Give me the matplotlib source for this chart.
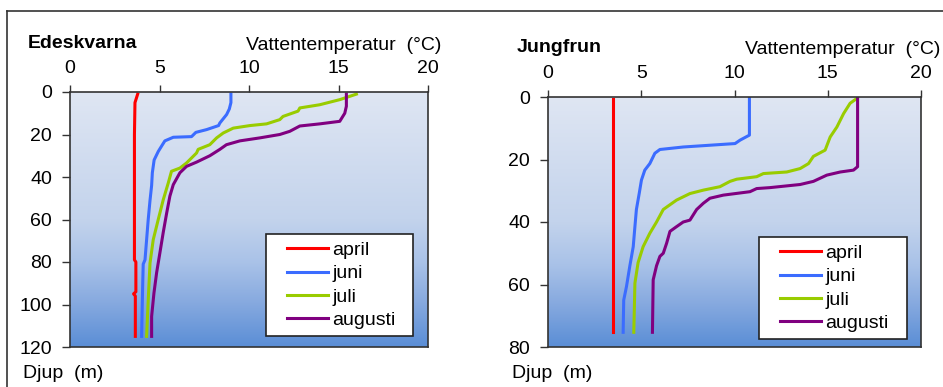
import numpy as np
import matplotlib
matplotlib.use("Agg")
import matplotlib.pyplot as plt
from matplotlib.colors import LinearSegmentedColormap
from matplotlib.lines import Line2D
from matplotlib.legend_handler import HandlerLine2D

plt.rcParams['font.family'] = ['Liberation Sans', 'DejaVu Sans']

# Edeskvarna profiles (depth in m, temperature in °C)
ede_april_d = [1, 5, 20, 40, 60, 79, 80, 94, 95, 96, 115]
ede_april_t = [3.78, 3.63, 3.6, 3.6, 3.6, 3.6, 3.68, 3.68, 3.55, 3.65, 3.65]

ede_juni_d = [1, 5, 8, 10.6, 14.6, 15.8, 17.7, 19, 21, 21.3, 23, 25, 28, 32, 38, 44, 51, 60, 69.5, 79, 81, 91, 115]
ede_juni_t = [8.99, 8.99, 8.9, 8.75, 8.37, 8.3, 7.63, 7.03, 6.79, 5.77, 5.3, 5.15, 4.93, 4.7, 4.6, 4.56, 4.47, 4.37, 4.28, 4.19, 4.09, 4.06, 4.0]

ede_juli_d = [1, 3.6, 6, 7.5, 9, 11.5, 13, 15, 15.8, 17, 19.3, 21.6, 24.8, 27, 28.7, 33.4, 35.8, 37.3, 42.8, 50.7, 60, 69.5, 80.5, 98, 115]
ede_juli_t = [16.0, 15.07, 13.95, 12.84, 12.74, 11.9, 11.72, 10.98, 10.05, 9.12, 8.56, 8.19, 7.81, 7.16, 7.07, 6.51, 6.14, 5.67, 5.49, 5.21, 4.93, 4.65, 4.47, 4.37, 4.28]

ede_aug_d = [1, 6.7, 10, 13.8, 15, 16, 18.5, 20, 21.6, 23, 24.8, 27, 30, 33, 35, 38, 43.6, 49, 57, 66, 75.8, 85, 94.6, 105.6, 115]
ede_aug_t = [15.44, 15.44, 15.35, 15.07, 13.95, 12.84, 12.28, 11.72, 10.6, 9.49, 8.74, 8.37, 7.81, 7.07, 6.51, 6.14, 5.77, 5.58, 5.4, 5.21, 5.02, 4.84, 4.69, 4.56, 4.56]

# Jungfrun profiles
jun_april_d = [0.5, 75.3]
jun_april_t = [3.49, 3.49]

jun_juni_d = [0.5, 12.2, 13.8, 14.9, 16, 16.8, 18, 21.3, 23.4, 26.6, 30.9, 36, 41.5, 47.9, 54, 60.6, 65, 75.3]
jun_juni_t = [10.8, 10.8, 10.3, 10.03, 7.25, 6.0, 5.73, 5.46, 5.19, 5.01, 4.89, 4.74, 4.66, 4.57, 4.39, 4.21, 4.06, 4.03]

jun_juli_d = [0.6, 2, 5.3, 9.6, 12.8, 17, 19, 21.3, 22.9, 24, 24.5, 25.5, 26.3, 27, 28.7, 29.8, 30.9, 33, 36, 40, 43.6, 47.9, 53, 59.6, 75.3]
jun_juli_t = [16.53, 16.2, 15.85, 15.49, 15.13, 14.86, 14.23, 13.97, 13.52, 12.8, 11.55, 11.19, 10.12, 9.76, 9.22, 8.33, 7.61, 6.89, 6.18, 5.82, 5.46, 5.1, 4.83, 4.66, 4.6]

jun_aug_d = [0.5, 22.3, 23.4, 24, 25, 27, 28, 29, 29.3, 30.3, 31.4, 32.4, 34, 36, 39.4, 40, 41.5, 43, 46.8, 50, 51, 54, 58.5, 75.3]
jun_aug_t = [16.6, 16.6, 16.38, 15.67, 14.95, 14.23, 13.52, 11.9, 11.19, 10.83, 9.4, 8.68, 8.33, 7.97, 7.61, 7.25, 6.89, 6.54, 6.36, 6.18, 6.0, 5.82, 5.64, 5.6]

months = ['april', 'juni', 'juli', 'augusti']
colors = ['#ff0000', '#3b6cff', '#99cc00', '#800080']

bg = LinearSegmentedColormap.from_list('bg', [
    (0.0, '#dfe6f3'), (0.5, '#c3d3ec'), (0.67, '#a9c2e8'),
    (0.83, '#86a9df'), (1.0, '#5a8ed6')])

FS = 14

fig = plt.figure(figsize=(9.43, 3.87), dpi=100)

# outer frame (top and left)
fig.add_artist(Line2D([7/943, 1], [1 - 11/387, 1 - 11/387], color='#333333', lw=1.2))
fig.add_artist(Line2D([7/943, 7/943], [0, 1 - 11/387], color='#333333', lw=1.2))


def panel(rect, name, maxdepth, yticks, profiles, title_x, tl_right, title_y, djup_x, leg_box):
    ax = fig.add_axes(rect)
    grad = np.linspace(0, 1, 256).reshape(-1, 1)
    ax.imshow(grad, cmap=bg, aspect='auto', extent=[0, 20, maxdepth, 0], zorder=0)
    for (d, t), c, m in zip(profiles, colors, months):
        ax.plot(t, d, color=c, lw=2.2, label=m, zorder=2)
    ax.set_xlim(0, 20)
    ax.set_ylim(maxdepth, 0)
    ax.set_xticks([0, 5, 10, 15, 20])
    ax.set_yticks(yticks)
    ax.xaxis.tick_top()
    ax.tick_params(axis='x', length=5, width=1, pad=6, labelsize=FS, color='#333333')
    ax.tick_params(axis='y', length=6, width=1, pad=7, labelsize=FS, color='#333333')
    for s in ax.spines.values():
        s.set_color('#333333')
        s.set_linewidth(1.2)
    leg = ax.legend(loc='lower left', bbox_to_anchor=leg_box, mode='expand', fontsize=FS,
                    frameon=True, fancybox=False, edgecolor='#222222',
                    handlelength=2.85, handletextpad=0.2, borderpad=0.35,
                    labelspacing=0.3, borderaxespad=0,
                    handler_map={Line2D: HandlerLine2D(xpad=0.75)})
    leg.get_frame().set_linewidth(1.2)
    leg.get_frame().set_alpha(1)
    fig.text(title_x / 943, 1 - title_y / 387, name, fontsize=FS, fontweight='bold',
             ha='left', va='center')
    fig.text(tl_right / 943, 1 - (title_y + 1) / 387, 'Vattentemperatur  (°C)',
             fontsize=FS, ha='right', va='center')
    fig.text(djup_x / 943, 1 - 373 / 387, 'Djup  (m)', fontsize=FS, ha='left', va='center')
    return ax


panel([70/943, 1 - 347/387, 358/943, 255/387], 'Edeskvarna', 120,
      [0, 20, 40, 60, 80, 100, 120],
      [(ede_april_d, ede_april_t), (ede_juni_d, ede_juni_t),
       (ede_juli_d, ede_juli_t), (ede_aug_d, ede_aug_t)],
      28, 441, 44, 23, (0.5475, 0.043, 0.4106, 0.3))

panel([548/943, 1 - 347/387, 373/943, 250/387], 'Jungfrun', 80,
      [0, 20, 40, 60, 80],
      [(jun_april_d, jun_april_t), (jun_juni_d, jun_juni_t),
       (jun_juli_d, jun_juli_t), (jun_aug_d, jun_aug_t)],
      517, 940, 48, 512, (0.5657, 0.032, 0.397, 0.3))

fig.savefig('out.png', dpi=100)
